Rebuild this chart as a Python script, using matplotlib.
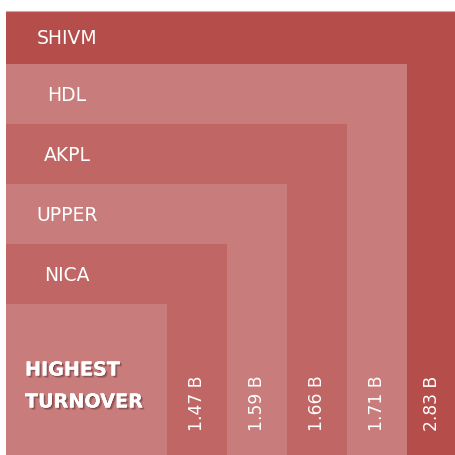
import matplotlib
matplotlib.use("Agg")
import matplotlib.pyplot as plt
from matplotlib.patches import Rectangle
import matplotlib.patheffects as pe

# ---- data ----
companies = ["SHIVM", "HDL", "AKPL", "UPPER", "NICA"]
turnover_b = [2.83, 1.71, 1.66, 1.59, 1.47]
title_lines = ["HIGHEST", "TURNOVER"]

# ---- style / layout (pixel space of a 456x456 canvas) ----
dark = "#B54D4B"
light = "#C87C7B"
medium = "#C06664"
level_colors = [dark, light, medium, light, medium, light]

W = H = 456
left = 6
top0 = 12
first_top = 65
first_right = 407
step = 60.1
outer_right = 458
outer_bottom = 500

fig = plt.figure(figsize=(4.56, 4.56), dpi=100)
ax = fig.add_axes([0, 0, 1, 1])
ax.set_xlim(0, W)
ax.set_ylim(H, 0)
ax.axis("off")

n = len(companies) + 1
tops = [top0] + [first_top + step * i for i in range(n - 1)]
rights = [outer_right] + [first_right - step * i for i in range(n - 1)]

for i in range(n):
    ax.add_patch(Rectangle((left, tops[i]), rights[i] - left, outer_bottom - tops[i],
                           facecolor=level_colors[i], edgecolor="none", zorder=i))

# thin light border line at the top
ax.plot([left, W], [top0 + 0.3, top0 + 0.3], color="#D9A3A1", lw=0.8, zorder=20)

# company labels in horizontal bands
for i, name in enumerate(companies):
    yc = (tops[i] + tops[i + 1]) / 2
    ax.text(67, yc, name, color="white", fontsize=13.5, ha="center", va="center",
            family="DejaVu Sans", zorder=30)

# turnover labels in vertical columns
for i, val in enumerate(turnover_b):
    xc = (rights[i] + rights[i + 1]) / 2
    ax.text(xc, 403.5, f"{val:.2f} B", color="white", fontsize=12.3, rotation=90,
            ha="center", va="center", family="DejaVu Sans", zorder=30)

shadow = [pe.withSimplePatchShadow(offset=(1.5, -1.5), shadow_rgbFace="#3a1a1a", alpha=0.3),
          pe.withSimplePatchShadow(offset=(0.7, -0.7), shadow_rgbFace="#3a1a1a", alpha=0.3),
          pe.Normal()]
ax.text(25, 371, title_lines[0], color="white", fontsize=13.8, fontweight="bold",
        ha="left", va="center", family="DejaVu Sans", zorder=30, path_effects=shadow)
ax.text(25, 403, title_lines[1], color="white", fontsize=13.8, fontweight="bold",
        ha="left", va="center", family="DejaVu Sans", zorder=30, path_effects=shadow)

fig.savefig("out.png", dpi=100, facecolor="white")
